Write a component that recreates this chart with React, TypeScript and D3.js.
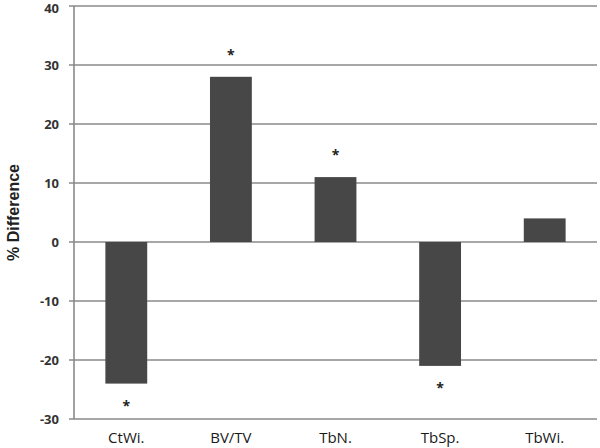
import React from "react";
import * as d3 from "d3";

const categories = ["CtWi.", "BV/TV", "TbN.", "TbSp.", "TbWi."];
const values = [-24, 28, 11, -21, 4];
const significant = [true, true, true, true, false];
const yTicks = [-30, -20, -10, 0, 10, 20, 30, 40];

const W = 600;
const H = 448;
const left = 74;
const right = 597;
const top = 6;
const bottom = 419;

export default function App() {
  const x = d3.scaleBand<string>().domain(categories).range([left, right]).paddingInner(0.6).paddingOuter(0.3);
  const y = d3.scaleLinear().domain([-30, 40]).range([bottom, top]);
  const font = "'Open Sans', 'DejaVu Sans', sans-serif";
  return (
    <svg width={W} height={H} style={{ position: "absolute", left: 0, top: 0, background: "#fff" }}>
      {yTicks.map((t) => (
        <g key={t}>
          <line x1={left - 5} x2={right} y1={y(t)} y2={y(t)} stroke="#8a8a8a" strokeWidth={1.6} />
          <text x={left - 15} y={Math.max(y(t), 8)} dy="0.35em" textAnchor="end" fontFamily={font} fontWeight={700} fontSize={13} fill="#333">
            {t}
          </text>
        </g>
      ))}
      <line x1={left} x2={left} y1={top} y2={bottom} stroke="#8a8a8a" strokeWidth={1.6} />
      {categories.map((c, i) => {
        const v = values[i];
        const bx = x(c)!;
        const bw = x.bandwidth();
        const y0 = y(0);
        const yv = y(v);
        return (
          <g key={c}>
            <rect x={bx} y={Math.min(y0, yv)} width={bw} height={Math.abs(yv - y0)} fill="#474747" />
            {significant[i] && (
              <text
                x={bx + bw / 2}
                y={v >= 0 ? yv - 17 : yv + 27}
                textAnchor="middle"
                fontFamily={font}
                fontWeight={700}
                fontSize={14}
                fill="#222"
              >
                *
              </text>
            )}
            <text x={bx + bw / 2} y={bottom + 24} textAnchor="middle" fontFamily={font} fontSize={15} fill="#1a1a1a">
              {c}
            </text>
          </g>
        );
      })}
      <text
        transform={`translate(19,${(top + bottom) / 2}) rotate(-90)`}
        textAnchor="middle"
        fontFamily="'Liberation Sans', Arial, sans-serif"
        fontWeight={700}
        fontSize={16}
        fill="#222"
      >
        % Difference
      </text>
    </svg>
  );
}
